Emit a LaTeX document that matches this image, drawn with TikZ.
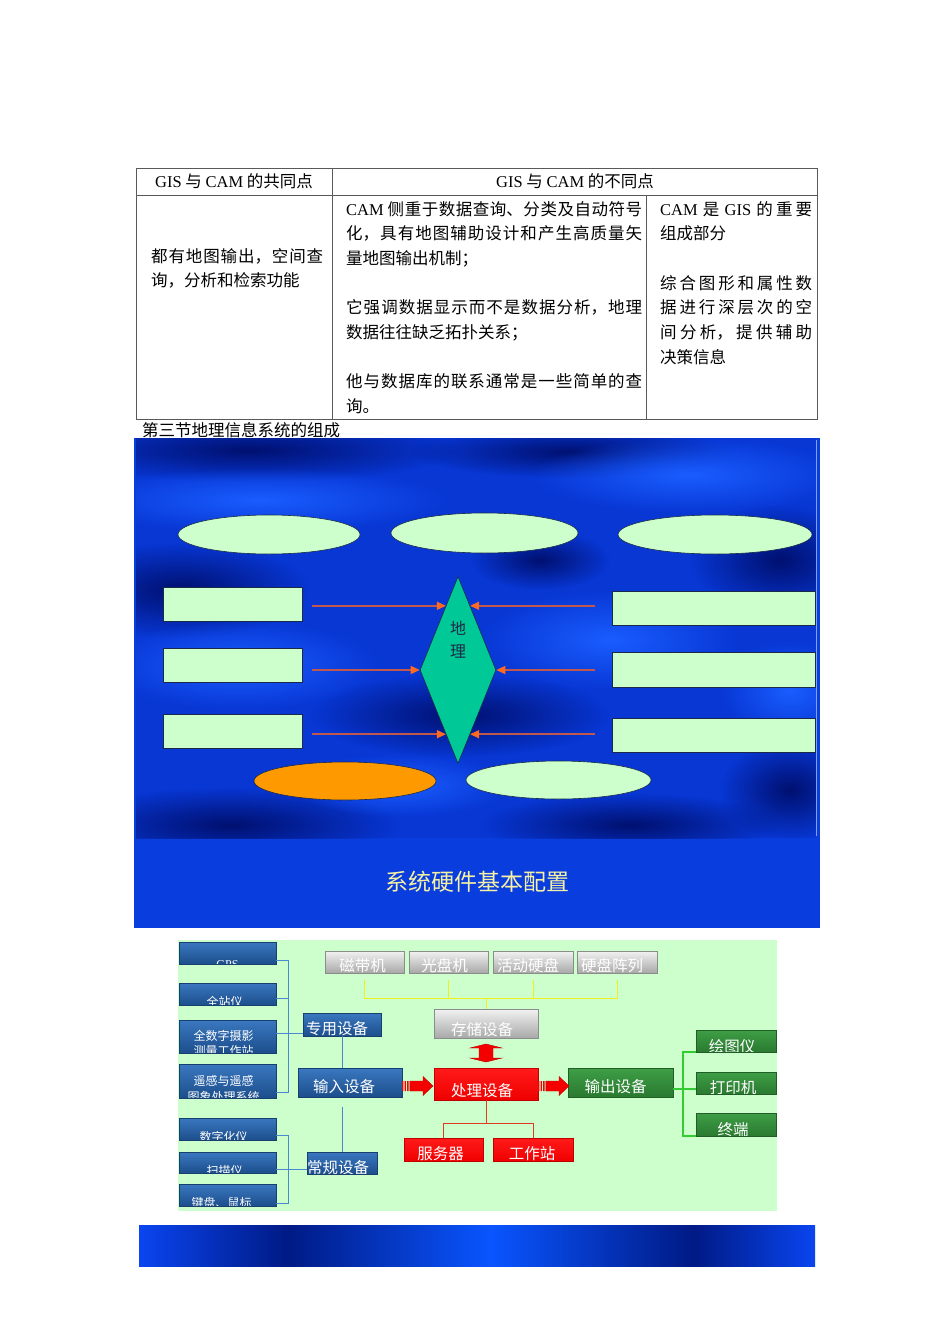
\documentclass[tikz,border=0pt]{standalone}
\usepackage{fontspec}
\setmainfont{Noto Sans CJK SC}
\newfontfamily\latfont{Liberation Serif}
\newcommand\lat[1]{{\latfont #1}}
\newcommand\myfs[1]{\fontsize{#1}{#1}\selectfont}
\usetikzlibrary{shapes.geometric,arrows.meta,calc,fadings}
\XeTeXlinebreaklocale "zh"
\XeTeXlinebreakskip=0pt plus 4pt

\tikzfading[name=softblob, inner color=transparent!0, outer color=transparent!100]

\definecolor{pale}{HTML}{CCFFCC}
\definecolor{hwbg}{HTML}{CCFFCC}
\definecolor{panelblue}{HTML}{0837D4}
\definecolor{bandblue}{HTML}{0A3DDE}
\definecolor{navyc}{HTML}{001070}
\definecolor{brightc}{HTML}{1A5DFF}
\definecolor{dia}{HTML}{00C896}
\definecolor{oranE}{HTML}{FF9900}
\definecolor{arrline}{HTML}{C0584E}
\definecolor{arrhead}{HTML}{FF6A20}
\definecolor{ttl}{HTML}{F4F0A4}
\definecolor{edge}{HTML}{1B2A48}
\definecolor{bla}{HTML}{3A78C0}
\definecolor{blb}{HTML}{1C4E8C}
\definecolor{bld}{HTML}{17406F}
\definecolor{gra}{HTML}{F2F2F2}
\definecolor{grb}{HTML}{A8A8A8}
\definecolor{grd}{HTML}{8C8C8C}
\definecolor{rda}{HTML}{FF1A1A}
\definecolor{rdb}{HTML}{F00000}
\definecolor{rdd}{HTML}{C00000}
\definecolor{gna}{HTML}{3E9E46}
\definecolor{gnb}{HTML}{2A7A30}
\definecolor{gnd}{HTML}{1F5E24}
\definecolor{bline}{HTML}{4A88D0}
\definecolor{yline}{HTML}{F0F020}
\definecolor{gline}{HTML}{33CC33}
\definecolor{rline}{HTML}{E03A20}
\definecolor{arrred}{HTML}{F40000}
\definecolor{ba}{HTML}{0A45F0}
\definecolor{bb}{HTML}{001A85}
\definecolor{bc}{HTML}{0A55FF}

\pgfdeclarehorizontalshading{bandshade}{100bp}{color(0bp)=(ba); color(25bp)=(ba); color(36bp)=(bb); color(51bp)=(bc); color(66bp)=(bb); color(75bp)=(ba); color(100bp)=(ba)}

\newcommand\rbox[6]{\node[#2, minimum width={#5-#3}, minimum height={#6-#4}] (#1) at ({(#3+#5)/2},{(#4+#6)/2}) {};}

\tikzset{
 tbl/.style={draw=black!65, line width=0.7pt},
 cell/.style={anchor=base west, inner sep=0pt, align=justify, font=\fontsize{16.5}{24.7}\selectfont},
 hdr/.style={anchor=base, inner sep=0pt, font=\fontsize{16.5}{20}\selectfont},
 hwt/.style={inner sep=0pt, text height=0.86em, text depth=0.1em, text=white},
 ct/.style n args={3}{path picture={\node[hwt, font=\myfs{15.5}] at ($(path picture bounding box.south)+(#3,#2)$) {#1};}},
 cs/.style n args={3}{path picture={\node[hwt, font=\myfs{12}] at ($(path picture bounding box.south)+(#3,#2)$) {#1};}},
 cstwo/.style n args={4}{path picture={\node[hwt, font=\myfs{12}] at ($(path picture bounding box.south)+(-4,#3)$) {#1}; \node[hwt, font=\myfs{12}] at ($(path picture bounding box.south)+(-4,#4)$) {#2};}},
 blubox/.style={draw=bld, line width=0.5pt, top color=bla, bottom color=blb, inner sep=0pt, outer sep=0pt},
 grybox/.style={draw=grd, line width=0.5pt, top color=gra, bottom color=grb, inner sep=0pt, outer sep=0pt},
 redbox/.style={draw=rdd, line width=0.5pt, top color=rda, bottom color=rdb, inner sep=0pt, outer sep=0pt},
 grnbox/.style={draw=gnd, line width=0.5pt, top color=gna, bottom color=gnb, inner sep=0pt, outer sep=0pt},
 palebox/.style={draw=edge, line width=0.6pt, fill=pale, inner sep=0pt},
 blu/.style={draw=bline, line width=1pt},
 yel/.style={draw=yline, line width=1pt},
 grn/.style={draw=gline, line width=1.2pt},
 redl/.style={draw=rline, line width=1pt},
 parr/.style={draw=arrline, line width=1.5pt, -{Triangle[length=9pt,width=8pt,color=arrhead]}},
 pics/redarr/.style={code={
   \fill[arrred] (0,-5) rectangle (1.3,5) (2.6,-5) rectangle (3.9,5) (5.2,-5) rectangle (6.5,5);
   \filldraw[fill=arrred, draw=rdd, line width=0.4pt] (7.8,-5) -- (21,-5) -- (21,-9.5) -- (31,0) -- (21,9.5) -- (21,5) -- (7.8,5) -- cycle;}},
 pics/dblarr/.style={code={
   \filldraw[fill=arrred, draw=rdd, line width=0.4pt] (0,-9) -- (16,-5) -- (7,-5) -- (7,5) -- (16,5) -- (0,9) -- (-16,5) -- (-7,5) -- (-7,-5) -- (-16,-5) -- cycle;}},
}

\begin{document}
\begin{tikzpicture}[x=1pt,y=-1pt]
\useasboundingbox (0,0) rectangle (950,1344);
\fill[white] (0,0) rectangle (950,1344);

% ---------- table ----------
\draw[tbl] (136,168) rectangle (817,419);
\draw[tbl] (136,195) -- (817,195);
\draw[tbl] (332,168) -- (332,419);
\draw[tbl] (646,195) -- (646,419);
\node[hdr] (h1) at (234,187) {\lat{GIS} 与 \lat{CAM} 的共同点};
\node[hdr] (h2) at (575,187) {\lat{GIS} 与 \lat{CAM} 的不同点};
\node[cell, text width=172pt] (c1) at (151,262) {都有地图输出，空间查\linebreak 询，分析和检索功能};
\node[cell, text width=296pt] (c2) at (346,215) {\lat{CAM} 侧重于数据查询、分类及自动符号\linebreak 化，具有地图辅助设计和产生高质量矢\linebreak 量地图输出机制；\par\vspace{24.7pt}它强调数据显示而不是数据分析，地理\linebreak 数据往往缺乏拓扑关系；\par\vspace{24.7pt}他与数据库的联系通常是一些简单的查\linebreak 询。};
\node[cell, text width=152pt] (c3) at (660,215) {\lat{CAM} 是 \lat{GIS} 的重要\linebreak 组成部分\par\vspace{24.7pt}综合图形和属性数\linebreak 据进行深层次的空\linebreak 间分析，提供辅助\linebreak 决策信息};
\node[anchor=base west, inner sep=0pt, font=\fontsize{16.5}{20}\selectfont] (sec) at (142,436) {第三节地理信息系统的组成};

% ---------- blue panel ----------
\fill[bandblue] (134,438) rectangle (820,928);
\begin{scope}
\clip (136,438) rectangle (816,838);
\fill[panelblue] (136,438) rectangle (816,838);
\foreach \cx/\cy/\rx/\ry in {250/450/210/32, 570/452/160/26, 180/590/130/48, 460/715/150/42, 230/825/170/38, 630/825/150/32, 780/560/90/55, 790/790/70/50, 540/560/70/30}
  \fill[navyc, path fading=softblob] (\cx,\cy) ellipse ({\rx pt} and {\ry pt});
\foreach \cx/\cy/\rx/\ry in {260/500/190/32, 690/475/160/38, 240/665/140/45, 610/640/130/50, 790/690/70/50, 400/785/110/32}
  \fill[brightc, path fading=softblob] (\cx,\cy) ellipse ({\rx pt} and {\ry pt});
\end{scope}
\draw[draw=white!50!bandblue, line width=1pt] (816,440) -- (816,836);

\node[palebox, ellipse, minimum width=182, minimum height=39] (e1) at (269,534.5) {};
\node[palebox, ellipse, minimum width=187, minimum height=40] (e2) at (484.5,533) {};
\node[palebox, ellipse, minimum width=194, minimum height=39] (e3) at (715,534.5) {};
\rbox{L1}{palebox}{163}{587}{302}{621}
\rbox{L2}{palebox}{163}{648}{302}{682}
\rbox{L3}{palebox}{163}{714}{302}{748}
\rbox{R1}{palebox}{612}{591}{815}{625}
\rbox{R2}{palebox}{612}{652}{815}{687}
\rbox{R3}{palebox}{612}{718}{815}{752}
\node[ellipse, draw=edge, line width=0.6pt, fill=oranE, inner sep=0pt, minimum width=182, minimum height=38] (eo) at (345,781) {};
\node[palebox, ellipse, minimum width=185, minimum height=38] (eg) at (558.5,780) {};
\node[diamond, draw=edge, line width=0.6pt, fill=dia, minimum width=76, minimum height=187, inner sep=0pt] (dia) at (458,670) {};
\node[font=\fontsize{16}{23}\selectfont, text=edge, align=center, inner sep=0pt] (dt) at (458,639.5) {地\\理};

\coordinate (pL1) at ($(dia.west)!0.6845!(dia.north)$);
\coordinate (pL3) at ($(dia.west)!0.6845!(dia.south)$);
\coordinate (pR1) at ($(dia.east)!0.6845!(dia.north)$);
\coordinate (pR3) at ($(dia.east)!0.6845!(dia.south)$);
\draw[parr] ($(L1.east |- pL1)+(10,0)$) -- (pL1);
\draw[parr] ($(L2.east |- dia.west)+(10,0)$) -- (dia.west);
\draw[parr] ($(L3.east |- pL3)+(10,0)$) -- (pL3);
\draw[parr] ($(R1.west |- pR1)+(-17,0)$) -- (pR1);
\draw[parr] ($(R2.west |- dia.east)+(-17,0)$) -- (dia.east);
\draw[parr] ($(R3.west |- pR3)+(-17,0)$) -- (pR3);

\node[font=\myfs{23}, text=ttl] (title) at (477,882) {系统硬件基本配置};

% ---------- hardware diagram ----------
\fill[hwbg] (178,940) rectangle (777,1211);

\rbox{gps}{blubox, cs={\lat{GPS}}{1}{0}}{179}{942}{276}{964}
\rbox{qz}{blubox, cs={全站仪}{-2}{-3}}{179}{983}{276}{1005}
\rbox{sy}{blubox, cstwo={全数字摄影}{测量工作站}{-16}{-1}}{179}{1020}{276}{1053}
\rbox{yg}{blubox, cstwo={遥感与遥感}{图象处理系统}{-16}{0}}{179}{1064}{276}{1098}
\rbox{sz}{blubox, cs={数字化仪}{-2}{-4}}{179}{1118}{276}{1140}
\rbox{sm}{blubox, cs={扫描仪}{-1}{-3}}{179}{1152}{276}{1173}
\rbox{jp}{blubox, cs={键盘、鼠标}{-2}{-6}}{179}{1184}{276}{1206}
\rbox{zy}{blubox, ct={专用设备}{-5}{-5}}{303}{1013}{381}{1036}
\rbox{sr}{blubox, ct={输入设备}{-8}{-6}}{298}{1068}{402}{1097}
\rbox{cg}{blubox, ct={常规设备}{-4}{-4}}{307}{1152}{377}{1174}
\rbox{mag}{grybox, ct={磁带机}{-5}{-2}}{325}{951}{404}{973}
\rbox{gp}{grybox, ct={光盘机}{-5}{-4}}{409}{951}{488}{973}
\rbox{hd}{grybox, ct={活动硬盘}{-5}{-5}}{493}{951}{573}{973}
\rbox{ar}{grybox, ct={硬盘阵列}{-5}{-5}}{577}{951}{657}{973}
\rbox{stor}{grybox, ct={存储设备}{-6}{-4}}{434}{1009}{538}{1038}
\rbox{pr}{redbox, ct={处理设备}{-7}{-4}}{434}{1068}{538}{1100}
\rbox{srv}{redbox, ct={服务器}{-5}{-3}}{404}{1138}{483}{1161}
\rbox{ws}{redbox, ct={工作站}{-5}{-1}}{493}{1138}{573}{1161}
\rbox{out}{grnbox, ct={输出设备}{-8}{-5}}{568}{1068}{673}{1097}
\rbox{hty}{grnbox, ct={绘图仪}{-3}{-4}}{696}{1030}{776}{1052}
\rbox{dyj}{grnbox, ct={打印机}{-4}{-3}}{696}{1072}{776}{1094}
\rbox{zd}{grnbox, ct={终端}{-4}{-3}}{696}{1113}{776}{1136}

% blue brackets
\draw[blu] ($(gps.east)+(0,7)$) -| ($(yg.east)+(12,11)$) -- ($(yg.east)+(0,11)$);
\draw[blu] ($(qz.east)+(0,4)$) -- ($(qz.east)+(12,4)$);
\draw[blu] ($(sy.east)+(0,-3.5)$) -- ($(sy.east -| zy.west)+(0,-3.5)$);
\draw[blu] ($(sz.east)+(0,6)$) -| ($(jp.east)+(12,8)$) -- ($(jp.east)+(0,8)$);
\draw[blu] ($(sm.east)+(0,6.5)$) -- ($(sm.east -| cg.west)+(0,6.5)$);
\draw[blu] (zy.south) -- (zy.south |- sr.north);
\draw[blu] ($(sr.south -| zy.south)+(0,10)$) -- (cg.north -| zy.south);

% yellow storage tree
\coordinate (yj) at ($(stor.north)+(0,-11)$);
\draw[yel] ($(mag.south)+(0,7)$) |- (yj);
\draw[yel] ($(ar.south)+(0,7)$) |- (yj);
\draw[yel] ($(gp.south)+(0,7)$) -- (gp.south |- yj);
\draw[yel] ($(hd.south)+(0,7)$) -- (hd.south |- yj);
\draw[yel] (yj) -- (stor.north);

% red tree
\coordinate (rj) at ($(pr.south)+(0,23)$);
\draw[redl] (pr.south) -- (rj);
\draw[redl] (srv.north) |- (rj) -| (ws.north);

% green tree
\coordinate (gj) at ($(out.east)+(10,6.5)$);
\draw[grn] ($(out.east)+(0,6.5)$) -- ($(out.east -| dyj.west)+(0,6.5)$);
\draw[grn] (hty.south west) -| (gj);
\draw[grn] (zd.south west) -| (gj);

% block arrows
\pic at ($(sr.east)+(0,3.5)$) {redarr};
\pic at ($(pr.east)+(0,2)$) {redarr};
\pic at ($(stor.south)!0.5!(pr.north)$) {dblarr};

% ---------- bottom band ----------
\shade[shading=bandshade] (139,1225) rectangle (815,1266);
\end{tikzpicture}
\end{document}
